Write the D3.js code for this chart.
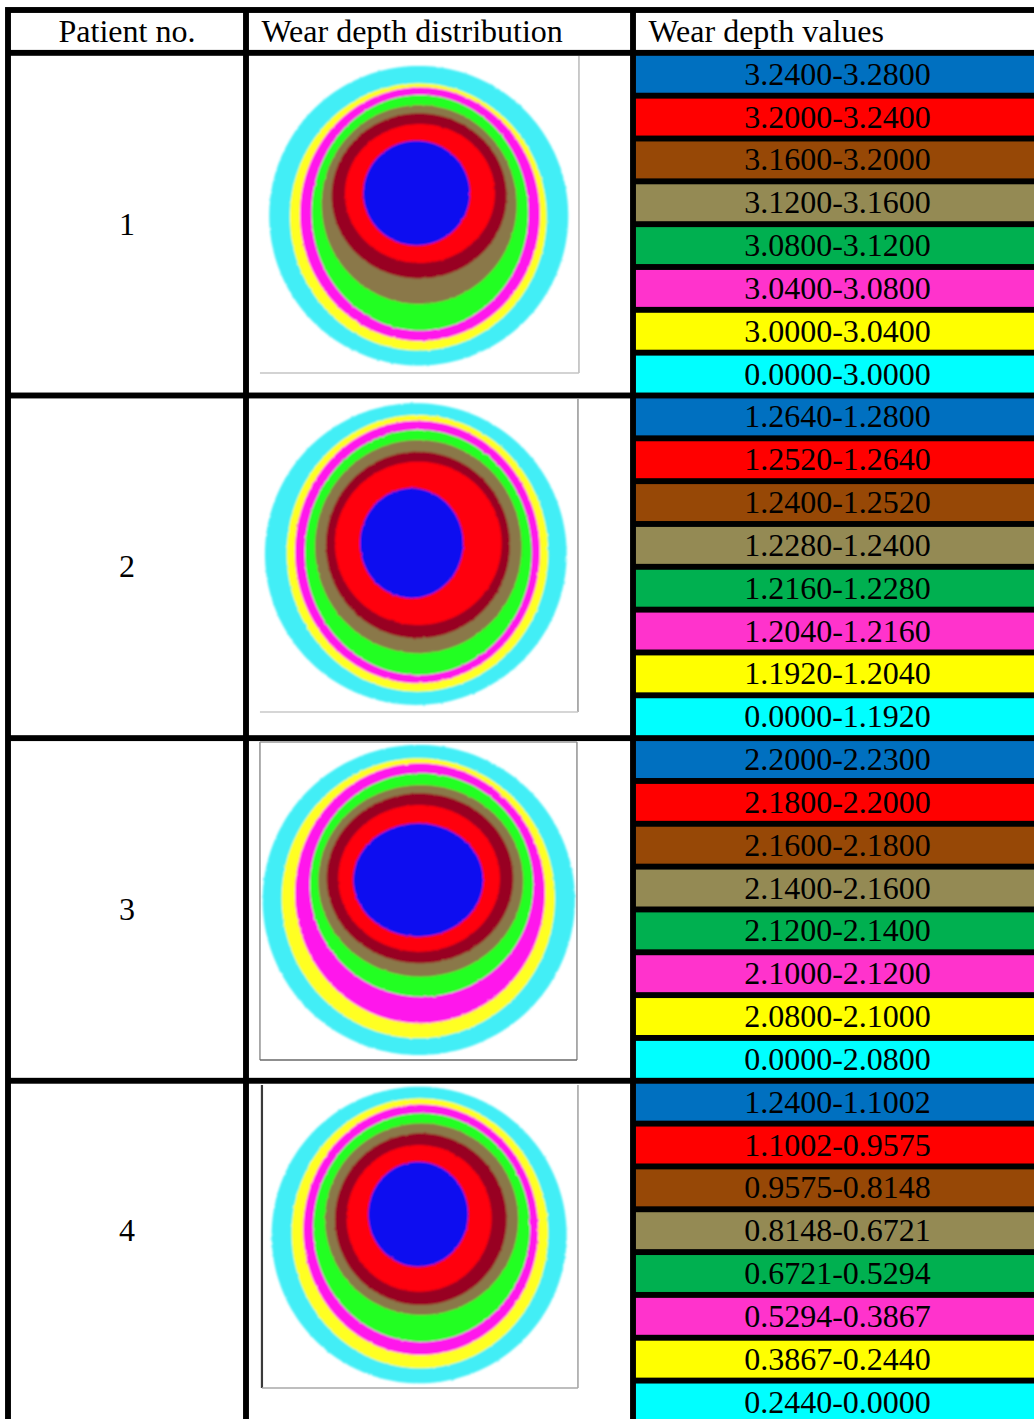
<!DOCTYPE html>
<html>
<head>
<meta charset="utf-8">
<script src="https://cdn.jsdelivr.net/npm/d3@7"></script>
<style>
  html, body { margin: 0; padding: 0; background: #fff; }
  svg { display: block; }
</style>
</head>
<body>
<script>
// ---- Table content ----------------------------------------------------
const headers = ["Patient no.", "Wear depth distribution", "Wear depth values"];
const patients = ["1", "2", "3", "4"];

// Wear depth class ranges per patient (deepest class first)
const rangesP1 = ["3.2400-3.2800", "3.2000-3.2400", "3.1600-3.2000", "3.1200-3.1600",
                  "3.0800-3.1200", "3.0400-3.0800", "3.0000-3.0400", "0.0000-3.0000"];
const rangesP2 = ["1.2640-1.2800", "1.2520-1.2640", "1.2400-1.2520", "1.2280-1.2400",
                  "1.2160-1.2280", "1.2040-1.2160", "1.1920-1.2040", "0.0000-1.1920"];
const rangesP3 = ["2.2000-2.2300", "2.1800-2.2000", "2.1600-2.1800", "2.1400-2.1600",
                  "2.1200-2.1400", "2.1000-2.1200", "2.0800-2.1000", "0.0000-2.0800"];
const rangesP4 = ["1.2400-1.1002", "1.1002-0.9575", "0.9575-0.8148", "0.8148-0.6721",
                  "0.6721-0.5294", "0.5294-0.3867", "0.3867-0.2440", "0.2440-0.0000"];

// Outline of each wear class on the liner map, in map units:
// [left, top, right, bottom], outermost (shallowest) class first
const contoursP1 = [
  [9.3, 10, 308.3, 309.5], [30, 27.3, 286.7, 294.5], [40, 31.3, 280, 285],
  [51.7, 39, 268.3, 274.5], [61.7, 49, 256.7, 248], [71.7, 57.3, 246.7, 222.5],
  [85, 68, 235, 207], [103.3, 84.7, 210, 189.5]
];
const contoursP2 = [
  [5, 8.3, 306.7, 310], [26.7, 20, 288.3, 296.7], [35, 25.7, 280, 288.3],
  [45, 35, 271.7, 280], [55, 45, 261.7, 258.3], [66, 56.7, 250, 243.3],
  [75, 66.7, 241.7, 230], [100, 93.3, 203.3, 203.3]
];
const contoursP3 = [
  [2.7, 3, 315, 313], [21.7, 16.3, 295, 296.3], [35, 21.3, 285, 281.3],
  [50, 31.3, 273.3, 254.7], [58.3, 43, 263.3, 234.7], [66.7, 51.3, 253.3, 221.3],
  [78.3, 63, 240, 209.7], [93.3, 81.3, 223.3, 194.7]
];
const contoursP4 = [
  [9.7, 1.7, 304.7, 298.3], [29.7, 13.3, 286.3, 283.3], [41.3, 19.3, 276.3, 270],
  [51.3, 28.3, 268, 256.7], [63, 38.3, 256.3, 230], [73, 48.3, 244.7, 220],
  [84.7, 60, 229.7, 206.7], [106.3, 76.7, 206.3, 181.7]
];

const ranges = [rangesP1, rangesP2, rangesP3, rangesP4];
const contours = [contoursP1, contoursP2, contoursP3, contoursP4];

// Legend swatches (deepest first) and the matching map colours (deepest first)
const legendColors = ["#0070c0", "#ff0000", "#974806", "#948a54", "#00b050", "#ff33cc", "#ffff00", "#00ffff"];
const mapColors    = ["#0810f0", "#ff0410", "#980020", "#8a7848", "#22ff22", "#ff14ec", "#ffff22", "#42eef6"];

// ---- Layout -------------------------------------------------------------
const W = 1034, H = 1419;
const font = '"Liberation Serif", "Times New Roman", Times, serif';
const fontSize = 32;
const lw = 5.9;                          // grid line width
const colLines = [8, 246, 633, 1042];    // vertical grid line centres
const headerTop = 10;
const nClasses = legendColors.length;
const nRows = patients.length * nClasses;
const yLine = d3.scaleLinear().domain([0, nRows]).range([52.85, 52.85 + 42.83 * nRows]);

// map frame inside each distribution cell: offset from cell's inner corner + size
const frames = [
  { dx: 11, dy: 0.2,  w: 319, h: 317, sides: { right: "#b4b4b4", bottom: "#c4c4c4" } },
  { dx: 11, dy: -3.5, w: 318, h: 317, sides: { right: "#8c8c8c", bottom: "#c8c8c8" } },
  { dx: 11, dy: 0.9,  w: 317, h: 318, sides: { left: "#8a8a8a", top: "#9a9a9a", right: "#8a8a8a", bottom: "#6a6a6a" } },
  { dx: 13, dy: 1.3,  w: 316, h: 303, sides: { left: "#3a3a3a", right: "#9a9a9a", bottom: "#a8a8a8" } }
];
const labelShift = [0, 0, 0, -22];

const svg = d3.select("body").append("svg")
  .attr("width", W).attr("height", H)
  .style("font-family", font);

const defs = svg.append("defs");
// slightly ragged, soft class boundaries
const rough = defs.append("filter").attr("id", "rough")
  .attr("x", "-5%").attr("y", "-5%").attr("width", "110%").attr("height", "110%");
rough.append("feTurbulence").attr("type", "fractalNoise").attr("baseFrequency", 0.22)
  .attr("numOctaves", 2).attr("seed", 7).attr("result", "noise");
rough.append("feDisplacementMap").attr("in", "SourceGraphic").attr("in2", "noise")
  .attr("scale", 2.2).attr("xChannelSelector", "R").attr("yChannelSelector", "G").attr("result", "disp");
rough.append("feGaussianBlur").attr("in", "disp").attr("stdDeviation", 0.85);

// black grid: table background, cells inset by half a line width
svg.append("rect")
  .attr("x", colLines[0] - lw / 2).attr("y", headerTop - lw / 2)
  .attr("width", colLines[3] - colLines[0] + lw).attr("height", yLine(nRows) - headerTop + lw)
  .attr("fill", "#000");

const cellX = c => colLines[c] + lw / 2;
const cellW = c => colLines[c + 1] - colLines[c] - lw;

// header row
const headerG = svg.append("g");
headers.forEach((t, c) => {
  headerG.append("rect")
    .attr("x", cellX(c)).attr("y", headerTop + lw / 2)
    .attr("width", cellW(c)).attr("height", yLine(0) - headerTop - lw)
    .attr("fill", "#fff");
  const cy = (headerTop + yLine(0)) / 2;
  headerG.append("text")
    .attr("x", c === 0 ? cellX(c) + cellW(c) / 2 : cellX(c) + 12.5)
    .attr("y", cy + fontSize * 0.33)
    .attr("text-anchor", c === 0 ? "middle" : "start")
    .attr("font-size", fontSize)
    .attr("fill", "#000")
    .text(t);
});

// closed outline of one wear class (ellipse through its four extremes)
const outline = d3.line().curve(d3.curveLinearClosed);
function classPath(ext, sx, sy) {
  const [l, t, r, b] = ext;
  const cx = (l + r) / 2, cy = (t + b) / 2, rx = (r - l) / 2, ry = (b - t) / 2;
  const pts = d3.range(0, 2 * Math.PI, Math.PI / 90)
    .map(a => [sx(cx + rx * Math.cos(a)), sy(cy + ry * Math.sin(a))]);
  return outline(pts);
}

patients.forEach((p, i) => {
  const y0 = yLine(i * nClasses), y1 = yLine((i + 1) * nClasses);
  const g = svg.append("g");

  // patient number cell
  g.append("rect").attr("x", cellX(0)).attr("y", y0 + lw / 2)
    .attr("width", cellW(0)).attr("height", y1 - y0 - lw).attr("fill", "#fff");
  g.append("text")
    .attr("x", cellX(0) + cellW(0) / 2)
    .attr("y", (y0 + y1) / 2 + labelShift[i] + fontSize * 0.33)
    .attr("text-anchor", "middle").attr("font-size", fontSize).text(p);

  // distribution map cell
  const cx0 = cellX(1), cy0 = y0 + lw / 2, ch = y1 - y0 - lw;
  g.append("rect").attr("x", cx0).attr("y", cy0)
    .attr("width", cellW(1)).attr("height", ch).attr("fill", "#fff");
  const clipId = "clip" + i;
  defs.append("clipPath").attr("id", clipId).append("rect")
    .attr("x", cx0).attr("y", cy0).attr("width", cellW(1)).attr("height", ch);

  const f = frames[i];
  const fx = cx0 + f.dx, fy = cy0 + f.dy;
  const sx = d3.scaleLinear().domain([0, f.w]).range([fx, fx + f.w]);
  const sy = d3.scaleLinear().domain([0, f.h]).range([fy, fy + f.h]);

  const mg = g.append("g").attr("clip-path", `url(#${clipId})`);
  const disc = mg.append("g").attr("filter", "url(#rough)");
  const cls = contours[i];
  cls.forEach((ext, k) => {
    disc.append("path")
      .attr("d", classPath(ext, sx, sy))
      .attr("fill", mapColors[nClasses - 1 - k]);
  });

  // thin photo frame edges
  const edges = {
    left:   [0, 0, 0, f.h], right: [f.w, 0, f.w, f.h],
    top:    [0, 0, f.w, 0], bottom: [0, f.h, f.w, f.h]
  };
  Object.entries(f.sides).forEach(([side, col]) => {
    const e = edges[side];
    mg.append("line")
      .attr("x1", sx(e[0])).attr("y1", sy(e[1])).attr("x2", sx(e[2])).attr("y2", sy(e[3]))
      .attr("stroke", col).attr("stroke-width", side === "left" && i === 3 ? 2.2 : 1.4);
  });

  // legend cells
  ranges[i].forEach((txt, k) => {
    const r0 = yLine(i * nClasses + k), r1 = yLine(i * nClasses + k + 1);
    g.append("rect")
      .attr("x", cellX(2)).attr("y", r0 + lw / 2)
      .attr("width", cellW(2)).attr("height", r1 - r0 - lw)
      .attr("fill", legendColors[k]);
    g.append("text")
      .attr("x", cellX(2) + cellW(2) / 2)
      .attr("y", (r0 + r1) / 2 + fontSize * 0.33)
      .attr("text-anchor", "middle").attr("font-size", fontSize).attr("fill", "#000")
      .text(txt);
  });
});
</script>
</body>
</html>
